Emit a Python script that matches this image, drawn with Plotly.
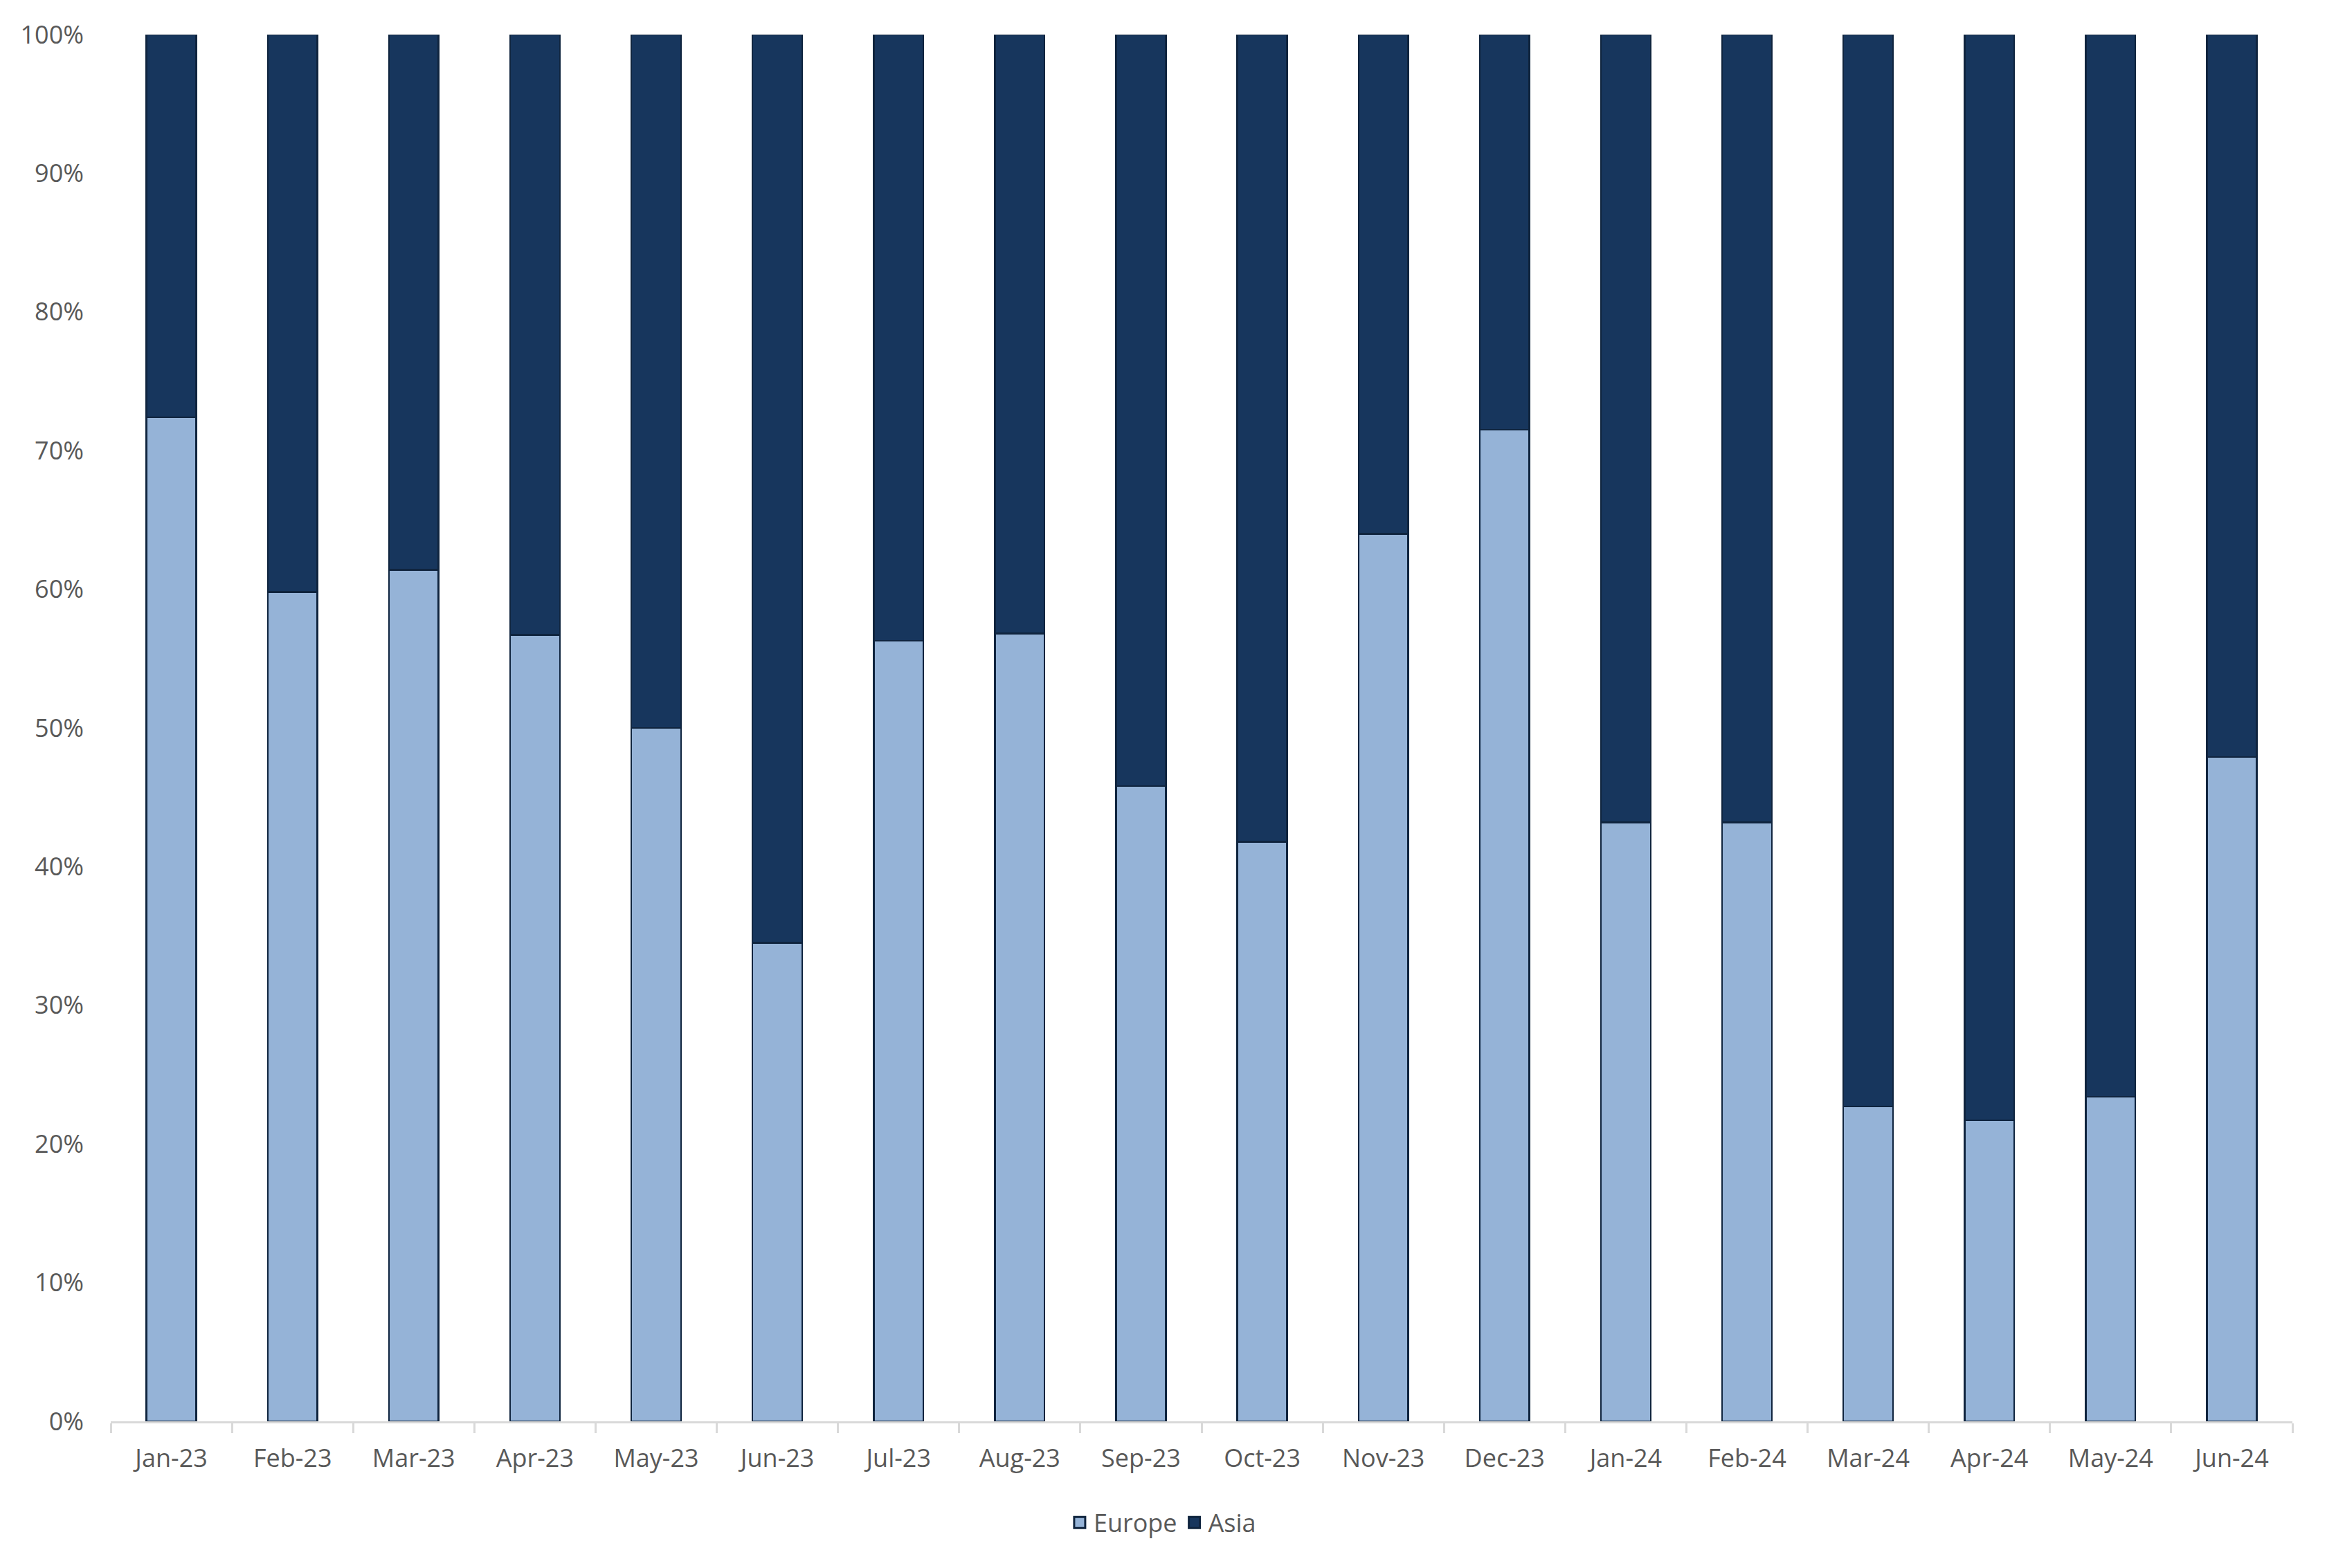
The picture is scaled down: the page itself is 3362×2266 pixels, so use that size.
import plotly.graph_objects as go

months = ["Jan-23", "Feb-23", "Mar-23", "Apr-23", "May-23", "Jun-23", "Jul-23", "Aug-23",
          "Sep-23", "Oct-23", "Nov-23", "Dec-23", "Jan-24", "Feb-24", "Mar-24", "Apr-24",
          "May-24", "Jun-24"]
europe = [72.4, 59.8, 61.4, 56.7, 50.0, 34.5, 56.3, 56.8, 45.8, 41.8, 64.0, 71.5,
          43.2, 43.2, 22.7, 21.7, 23.4, 47.9]
asia = [100 - v for v in europe]
y_ticks = [0, 10, 20, 30, 40, 50, 60, 70, 80, 90, 100]
y_tick_labels = [f"{t}%" for t in y_ticks]

font_family = "Open Sans"
text_color = "#595959"
europe_color = "#95B3D7"
asia_color = "#17365D"
outline = dict(color="#0F243E", width=2.5)

fig = go.Figure()
fig.add_trace(go.Bar(name="Europe", x=months, y=europe, showlegend=False,
                     marker=dict(color=europe_color, line=outline)))
fig.add_trace(go.Bar(name="Asia", x=months, y=asia, showlegend=False,
                     marker=dict(color=asia_color, line=outline)))
# legend entries with larger square swatches
for name, col in [("Europe", europe_color), ("Asia", asia_color)]:
    fig.add_trace(go.Scatter(name=name, x=[None], y=[None], mode="markers",
                             marker=dict(symbol="square", size=16, color=col,
                                         line=dict(color="#0F243E", width=3)),
                             hoverinfo="skip"))

fig.update_layout(
    barmode="stack",
    bargap=0.59,
    width=3362, height=2266,
    margin=dict(l=152, r=58, t=42, b=220),
    paper_bgcolor="white", plot_bgcolor="white",
    font=dict(family=font_family, size=36, color=text_color),
    showlegend=True,
    legend=dict(orientation="h", x=0.4822, xanchor="center", y=-0.073, yanchor="middle",
                font=dict(size=36, color=text_color), itemwidth=30, traceorder="normal",
                itemsizing="trace"),
)
fig.update_xaxes(
    type="category", automargin=False,
    showline=True, linecolor="#D9D9D9", linewidth=3,
    ticks="outside", tickson="boundaries", ticklen=14, tickcolor="#D9D9D9", tickwidth=3,
    ticklabelstandoff=20,
    showgrid=False, tickfont=dict(size=36, color=text_color),
)
fig.update_yaxes(
    range=[0, 100], tickvals=y_ticks, ticktext=y_tick_labels, automargin=False,
    showgrid=False, showline=False, zeroline=False, ticks="",
    ticklabelstandoff=38, tickfont=dict(size=36, color=text_color),
)

fig.write_html("out.html")
